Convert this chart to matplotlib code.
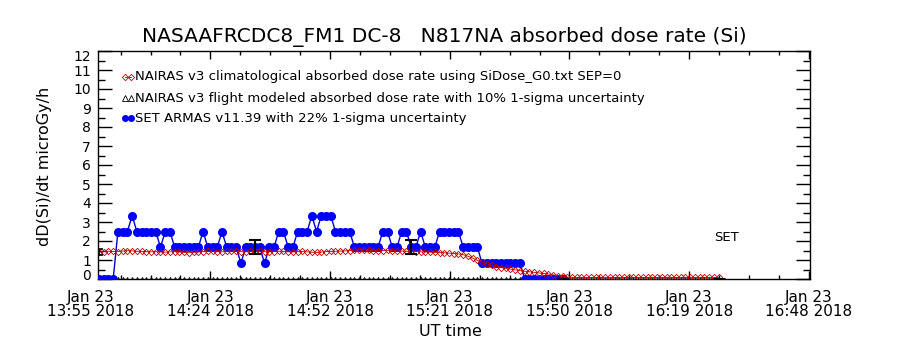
import numpy as np
import matplotlib
matplotlib.use("Agg")
import matplotlib.pyplot as plt
import matplotlib.transforms as mtransforms
from matplotlib.ticker import MultipleLocator

plt.rcParams["font.family"] = ["DejaVu Sans"]

# time axis: minutes after Jan 23 2018 13:55 UT
start_min = 2.0
cadence_min = 1.138

# SET ARMAS v11.39 absorbed dose rate (microGy/h)
set_dose = [
    0.0, 0.0, 0.0, 0.0, 2.5, 2.5, 2.5, 3.33, 2.5, 2.5,
    2.5, 2.5, 2.5, 1.67, 2.5, 2.5, 1.67, 1.67, 1.67, 1.67,
    1.67, 1.67, 2.5, 1.67, 1.67, 1.67, 2.5, 1.67, 1.67, 1.67,
    0.83, 1.67, 1.67, 1.67, 1.67, 0.83, 1.67, 1.67, 2.5, 2.5,
    1.67, 1.67, 2.5, 2.5, 2.5, 3.33, 2.5, 3.33, 3.33, 3.33,
    2.5, 2.5, 2.5, 2.5, 1.67, 1.67, 1.67, 1.67, 1.67, 1.67,
    2.5, 2.5, 1.67, 1.67, 2.5, 2.5, 1.67, 1.67, 2.5, 1.67,
    1.67, 1.67, 2.5, 2.5, 2.5, 2.5, 2.5, 1.67, 1.67, 1.67,
    1.67, 0.83, 0.83, 0.83, 0.83, 0.83, 0.83, 0.83, 0.83, 0.83,
    0.0, 0.0, 0.0, 0.0, 0.0, 0.0, 0.0, 0.0, 0.0,
]
set_err_idx = [33, 66, 98]
set_rel_err = 0.22

# NAIRAS v3 climatological absorbed dose rate
clim_dose = [
    1.42, 1.44, 1.46, 1.45, 1.44, 1.47, 1.49, 1.48, 1.46, 1.45, 1.44,
    1.43, 1.44, 1.42, 1.41, 1.43, 1.44, 1.42, 1.40, 1.38, 1.40, 1.42,
    1.44, 1.45, 1.46, 1.44, 1.43, 1.45, 1.47, 1.46, 1.44, 1.43, 1.45,
    1.47, 1.46, 1.44, 1.43, 1.44, 1.46, 1.45, 1.43, 1.42, 1.44, 1.45,
    1.43, 1.41, 1.40, 1.42, 1.44, 1.45, 1.46, 1.47, 1.48, 1.50, 1.52,
    1.53, 1.52, 1.51, 1.50, 1.49, 1.50, 1.51, 1.50, 1.48, 1.47, 1.46,
    1.45, 1.44, 1.43, 1.42, 1.41, 1.40, 1.39, 1.38, 1.36, 1.34, 1.32,
    1.28, 1.20, 1.10, 0.98, 0.88, 0.80, 0.72, 0.65, 0.60, 0.56, 0.52,
    0.48, 0.44, 0.41, 0.38, 0.35, 0.32, 0.29, 0.26, 0.22, 0.18, 0.14,
    0.10, 0.09, 0.08, 0.08, 0.08, 0.08, 0.08, 0.08, 0.08, 0.08, 0.08,
    0.08, 0.08, 0.08, 0.08, 0.08, 0.08, 0.08, 0.08, 0.08, 0.08, 0.08,
    0.08, 0.08, 0.08, 0.08, 0.08, 0.08, 0.08, 0.08, 0.08, 0.08, 0.08,
]

# NAIRAS v3 flight modeled absorbed dose rate (all at zero in this flight)
flight_dose = [0.0] * len(clim_dose)
flight_rel_err = 0.10

xtick_minutes = [0.0, 28.8, 57.6, 86.4, 115.2, 144.0, 172.8]
xtick_labels = ["Jan 23\n13:55 2018", "Jan 23\n14:24 2018", "Jan 23\n14:52 2018",
                "Jan 23\n15:21 2018", "Jan 23\n15:50 2018", "Jan 23\n16:19 2018",
                "Jan 23\n16:48 2018"]

set_min = start_min + cadence_min * np.arange(len(set_dose))
model_min = start_min + cadence_min * np.arange(len(clim_dose))
set_dose = np.array(set_dose)
clim_dose = np.array(clim_dose)
flight_dose = np.array(flight_dose)

fig = plt.figure(figsize=(9, 3.5), dpi=100)
ax = fig.add_axes([98 / 900, 71 / 350, 712 / 900, 228 / 350])

ax.plot(set_min, set_dose, color="#0000cc", lw=1.0, marker="o", ms=5.5,
        mfc="#0000ff", mec="#0000ff", zorder=3)
ax.plot(model_min, clim_dose, color="#c00000", lw=0.6, marker="D", ms=3.2,
        mfc="none", mec="#c00000", mew=0.6, zorder=4)
ax.plot(model_min, flight_dose, ls="none", marker="^", ms=3, mfc="none",
        mec="black", mew=0.6, zorder=2)

ax.errorbar(set_min[set_err_idx], set_dose[set_err_idx],
            yerr=set_dose[set_err_idx] * set_rel_err, fmt="none",
            ecolor="black", elinewidth=1.5, capsize=4, capthick=1.5, zorder=5)
ax.errorbar([model_min[0]], [clim_dose[0]], yerr=[clim_dose[0] * flight_rel_err],
            fmt="none", ecolor="black", elinewidth=1.2, capsize=3, capthick=1.2, zorder=5)
ax.errorbar([model_min[-1]], [flight_dose[-1]], yerr=[flight_dose[-1] * flight_rel_err],
            fmt="none", ecolor="black", elinewidth=1.2, capsize=4, capthick=2, zorder=5)

ax.set_xlim((98 - 90.7) / 4.156, (810 - 90.7) / 4.156)
ax.set_ylim(0, 12)

ax.set_xticks(xtick_minutes[1:])
ax.set_xticklabels([])
ax.xaxis.set_minor_locator(MultipleLocator(7.2))
ax.set_yticks(range(0, 13))
ax.yaxis.set_minor_locator(MultipleLocator(0.5))
ax.tick_params(axis="x", which="major", direction="in", length=6, width=1,
               top=True, bottom=True)
ax.tick_params(axis="x", which="minor", direction="in", length=3, width=1,
               top=True, bottom=True)
ax.tick_params(axis="y", which="major", direction="in", length=10, width=1,
               left=True, right=True, labelsize=10, pad=5)
ax.tick_params(axis="y", which="minor", direction="in", length=5, width=1,
               left=True, right=True)
# end labels sit inside the axis range, as in the original
ylabels = ax.get_yticklabels()
ylabels[0].set_transform(ylabels[0].get_transform()
                         + mtransforms.ScaledTranslation(0, 3.5 / 72, fig.dpi_scale_trans))
ylabels[-1].set_transform(ylabels[-1].get_transform()
                          + mtransforms.ScaledTranslation(0, -3.5 / 72, fig.dpi_scale_trans))
for sp in ax.spines.values():
    sp.set_linewidth(1)

blend = mtransforms.blended_transform_factory(ax.transData, ax.transAxes)
for t, lab in zip(xtick_minutes, xtick_labels):
    ax.text(t, -0.05, lab, transform=blend, ha="center", va="top",
            fontsize=11, linespacing=0.9, clip_on=False)

# legend drawn as in the original plot
leg_x = [0.038, 0.046]
leg_rows = [
    (0.887, dict(color="#c00000", marker="D", ms=3.2, mfc="none", mew=0.6, lw=0.6),
     "NAIRAS v3 climatological absorbed dose rate using SiDose_G0.txt SEP=0"),
    (0.793, dict(color="black", marker="^", ms=4, mfc="none", mew=0.6, lw=0),
     "NAIRAS v3 flight modeled absorbed dose rate with 10% 1-sigma uncertainty"),
    (0.705, dict(color="#0000ff", marker="o", ms=4, lw=2),
     "SET ARMAS v11.39 with 22% 1-sigma uncertainty"),
]
for y, style, text in leg_rows:
    ax.plot(leg_x, [y, y], transform=ax.transAxes, clip_on=False, **style)
    ax.text(0.052, y, text, transform=ax.transAxes, fontsize=9.5,
            ha="left", va="center")

ax.text(0.883, 0.184, "SET", transform=ax.transAxes, fontsize=9.5,
        ha="center", va="center")

fig.text(444 / 900, 1 - 37 / 350,
         "NASAAFRCDC8_FM1 DC-8   N817NA absorbed dose rate (Si)",
         ha="center", va="center", fontsize=14.5)
fig.text(45 / 900, 1 - 166 / 350, "dD(Si)/dt microGy/h", rotation=90,
         ha="center", va="center", fontsize=11.5)
fig.text(450 / 900, 1 - 331 / 350, "UT time", ha="center", va="center",
         fontsize=11.5)

fig.savefig("out.png", dpi=100)
